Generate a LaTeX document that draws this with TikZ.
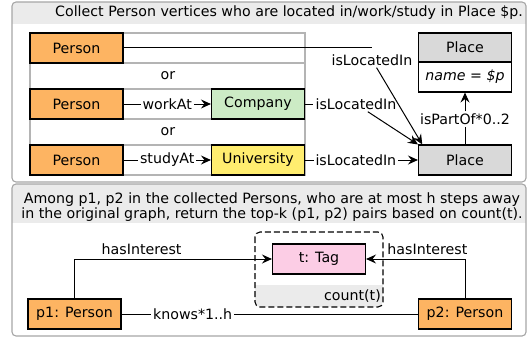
\documentclass[tikz,border=0pt]{standalone}
\usepackage{fontspec}
\setmainfont{DejaVu Sans}
\usetikzlibrary{arrows.meta}
\pgfdeclarelayer{backlayer}
\pgfdeclarelayer{edgelayer}
\pgfdeclarelayer{nodelayer}
\pgfsetlayers{backlayer,edgelayer,nodelayer,main}
\definecolor{personorange}{HTML}{FDB462}
\definecolor{companygreen}{HTML}{CCEBC5}
\definecolor{uniyellow}{HTML}{FFED6F}
\definecolor{placegray}{HTML}{D9D9D9}
\definecolor{tagpink}{HTML}{FCCDE5}
\definecolor{headgray}{HTML}{EBEBEB}
\definecolor{panelgray}{HTML}{A6A6A6}
\definecolor{tablegray}{HTML}{B4B4B4}
\tikzstyle{vertex}=[rectangle,draw=black,line width=1.1pt,minimum width=93pt,minimum height=30pt,inner sep=2pt]
\tikzstyle{person}=[vertex,fill=personorange]
\tikzstyle{company}=[vertex,fill=companygreen]
\tikzstyle{university}=[vertex,fill=uniyellow]
\tikzstyle{place}=[vertex,fill=placegray]
\tikzstyle{tag}=[vertex,fill=tagpink]
\tikzstyle{edge_label}=[fill=white,inner sep=2pt]
\tikzstyle{relation}=[draw=black,line width=1pt]
\tikzstyle{transition}=[relation,-{Stealth[length=10pt,width=9pt,inset=3.5pt]}]
\tikzstyle{panel}=[draw=panelgray,line width=1.1pt,rounded corners=4pt]

\begin{document}
\begin{tikzpicture}[x=1pt,y=-1pt,font=\fontsize{14.2}{15.5}\selectfont]
	\useasboundingbox (0,0) rectangle (532,337);
	\begin{pgfonlayer}{backlayer}
		% the two panels with their grey heads
		\begin{scope}
			\clip [rounded corners=4pt] (12,2) rectangle (526,182);
			\fill [headgray] (12,2) rectangle (526,24);
		\end{scope}
		\draw [style=panel] (12,2) rectangle (526,182);
		\begin{scope}
			\clip [rounded corners=4pt] (12,184) rectangle (526,336);
			\fill [headgray] (12,184) rectangle (526,223);
		\end{scope}
		\draw [style=panel] (12,184) rectangle (526,336);
		% table of the three alternatives
		\foreach \top/\bot in {33/63, 63/89, 89/119, 119/145, 145/175}
			\draw [tablegray, line width=1.1pt] (30,\top) rectangle (305,\bot);
		% count(t) group
		\begin{scope}
			\clip [rounded corners=5pt] (255,232) rectangle (383,307);
			\fill [headgray] (255,285) rectangle (383,307);
		\end{scope}
		\draw [dash pattern=on 6pt off 3pt, line width=1.1pt, rounded corners=5pt] (255,232) rectangle (383,307);
	\end{pgfonlayer}
	\begin{pgfonlayer}{nodelayer}
		\node (0) at (289,13) {Collect Person vertices who are located in/work/study in Place \$p.};
		\node [style=person] (1) at (76.5,48) {Person};
		\node (or1) at (168,76) {or};
		\node [style=person] (2) at (76.5,104) {Person};
		\node [style=company] (3) at (258,104) {Company};
		\node (or2) at (168,132) {or};
		\node [style=person] (4) at (76.5,160) {Person};
		\node [style=university] (5) at (258,160) {University};
		\node [style=place, minimum height=29pt] (6) at (465,47.5) {Place};
		\node [style=vertex, fill=white] (7) at (465,77) {\itshape name = \$p};
		\node [style=place] (8) at (465,160) {Place};
		\node [inner sep=2pt] (9) at (372,60) {isLocatedIn};
		\node [inner sep=2pt] (10) at (356,104) {isLocatedIn};
		\node [inner sep=2pt] (11) at (465,119) {isPartOf*0..2};
		\node [align=center] (12) at (272,207) {Among p1, p2 in the collected Persons, who are at most h steps away\\in the original graph, return the top-k (p1, p2) pairs based on count(t).};
		\node [style=tag] (13) at (319,259) {t: Tag};
		\node [anchor=east, inner sep=1pt] (14) at (382,296) {count(t)};
		\node [style=person] (15) at (74.5,314) {p1: Person};
		\node [style=person] (16) at (465,314) {p2: Person};
	\end{pgfonlayer}
	\begin{pgfonlayer}{edgelayer}
		\draw [style=relation] (1) -- (1 -| 9.north);
		\draw [style=transition] (9) -- (8.160);
		\draw [style=transition] (2) to node[style=edge_label]{workAt} (3);
		\draw [style=relation] (3) -- (10);
		\draw [style=transition] (10) -- (8.north west);
		\draw [style=transition] (4) to node[style=edge_label]{studyAt} (5);
		\draw [style=transition] (5) to node[style=edge_label, pos=0.45]{isLocatedIn} (8);
		\draw [style=relation] (8) -- (11);
		\draw [style=transition] (11) -- (7);
		\draw [style=transition] (15) |- node[above, pos=0.67]{hasInterest} (13);
		\draw [style=transition] (16) |- node[above, pos=0.69]{hasInterest} (13);
		\draw [style=relation] (15) to node[style=edge_label, pos=0.24]{knows*1..h} (16);
	\end{pgfonlayer}
\end{tikzpicture}
\end{document}
